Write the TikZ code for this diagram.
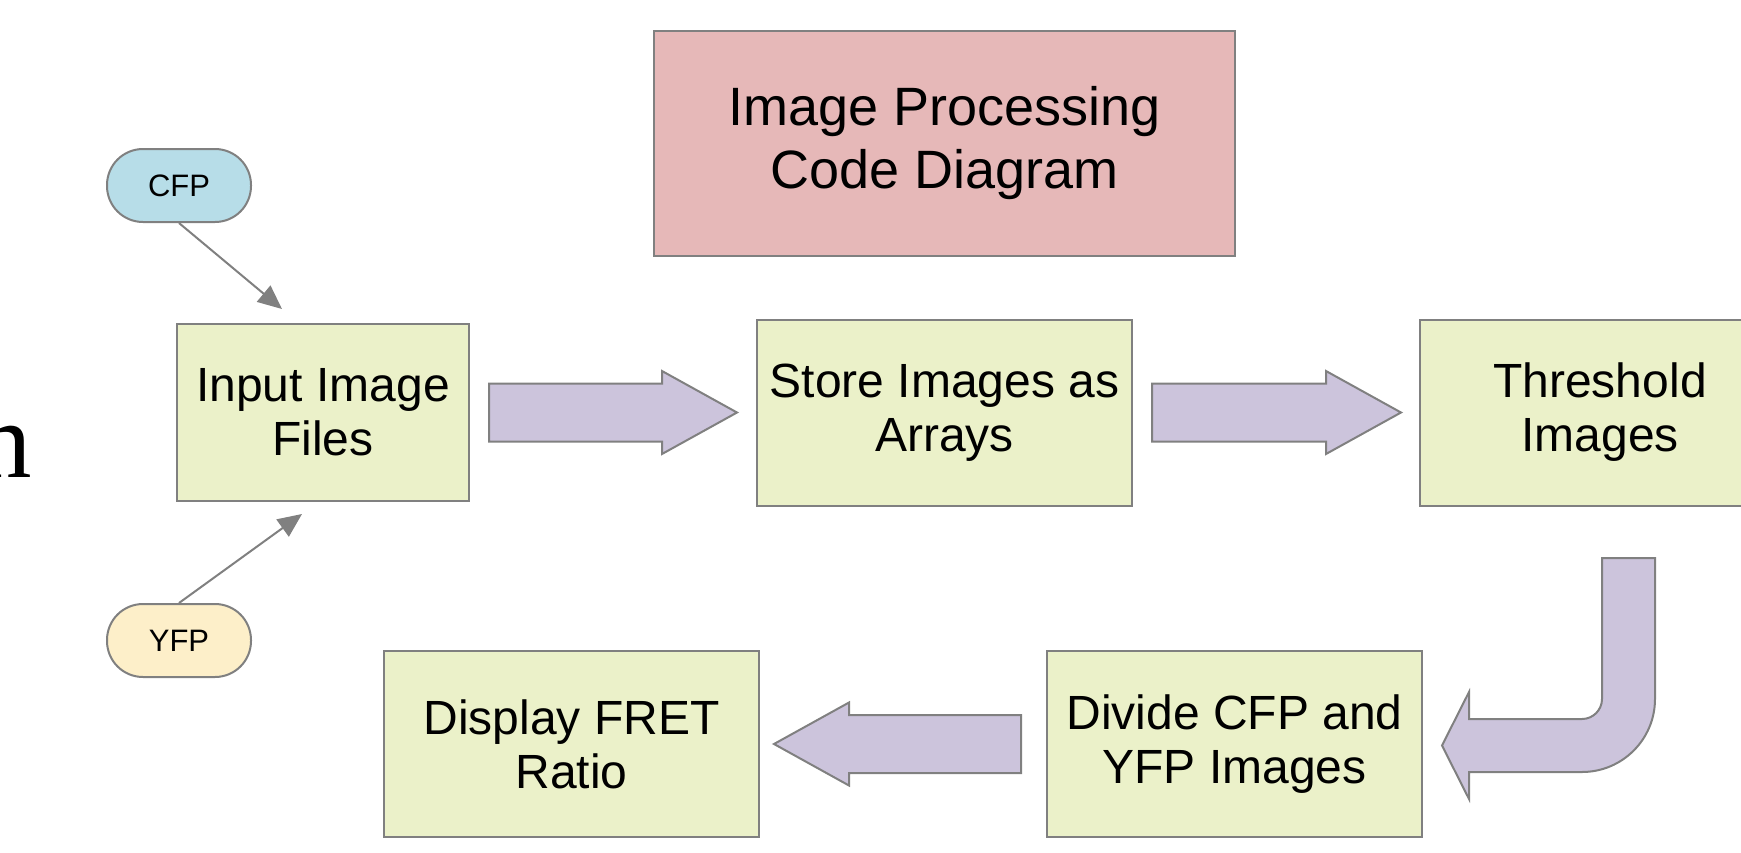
\documentclass[tikz,border=0pt]{standalone}
\usepackage{fontspec}
\setmainfont{Liberation Sans}
\newfontfamily\timesfont{Liberation Serif}
\usetikzlibrary{arrows.meta,calc}

\definecolor{stepfill}{HTML}{EBF1C9}
\definecolor{titlefill}{HTML}{E6B8B8}
\definecolor{flowfill}{HTML}{CCC4DC}
\definecolor{cfpfill}{HTML}{B7DDE8}
\definecolor{yfpfill}{HTML}{FDEFC9}
\definecolor{edgegray}{HTML}{808080}

\tikzset{
  stepbox/.style={draw=edgegray, line width=1pt, fill=stepfill, inner sep=0pt,
    minimum width=187.5pt, minimum height=93pt, align=center,
    font=\fontsize{24pt}{27pt}\selectfont},
  titlebox/.style={draw=edgegray, line width=1pt, fill=titlefill, inner sep=0pt,
    minimum width=290.5pt, minimum height=112.5pt, align=center,
    font=\fontsize{27pt}{31.5pt}\selectfont},
  pill/.style={draw=edgegray, line width=1pt, rounded corners=18pt, inner sep=0pt,
    minimum width=72pt, minimum height=36.5pt, font=\fontsize{15.5pt}{18pt}\selectfont},
  feed/.style={draw=edgegray, line width=1pt, -{Triangle[length=12pt,width=10.5pt]}},
  flowarrow/.style={draw=edgegray, line width=1pt, fill=flowfill, line join=miter},
}

% straight block arrow from tail #1 to tip #2, #3 = signed head length
\def\blockflow#1#2#3{\draw[flowarrow] let \p1=#1, \p2=#2 in
  (\x1,{\y1+14.5pt}) -- ({\x2-(#3)},{\y1+14.5pt}) -- ({\x2-(#3)},{\y1+20.75pt})
  -- (\x2,\y1) -- ({\x2-(#3)},{\y1-20.75pt}) -- ({\x2-(#3)},{\y1-14.5pt})
  -- (\x1,{\y1-14.5pt}) -- cycle;}

\begin{document}
\begin{tikzpicture}[x=0.5pt,y=-0.5pt]
\useasboundingbox (0,0) rectangle (1741,852);
\clip (0,0) rectangle (1741,852);

% left-over letter of the page text
\node[anchor=base west, inner sep=0pt, font=\timesfont\fontsize{54.5pt}{60pt}\selectfont] (cutn) at (-23,477) {n};

\node[titlebox] (title) at (944.5,143.5) {Image Processing\\Code Diagram};

% processing steps
\node[stepbox, minimum width=146pt, minimum height=88.5pt] (input) at (323,412.5) {Input Image\\Files};
\node[stepbox] (store) at (944.5,412.5) {Store Images as\\Arrays};
\node[stepbox, minimum width=180pt] (thresh) at (1600,412.5) {Threshold\\Images};
\node[stepbox] (divide) at (1234.5,744) {Divide CFP and\\YFP Images};
\node[stepbox] (display) at (571.5,744) {Display FRET\\Ratio};

% the two channels
\node[pill, fill=cfpfill] (cfp) at (179,185.5) {CFP};
\node[pill, fill=yfpfill] (yfp) at (179,640.5) {YFP};
\coordinate (cfpin) at (282,309);
\coordinate (yfpin) at (302,514);
\draw[feed] (cfp.south) -- (cfpin);
\draw[feed] (yfp.north) -- (yfpin);

% flow between the steps
\blockflow{($(input.east)+(19,0)$)}{($(store.west)+(-19,0)$)}{37.5pt}
\blockflow{($(store.east)+(19,0)$)}{($(thresh.west)+(-18,0)$)}{37.5pt}
\blockflow{($(divide.west)+(-25,0)$)}{($(display.east)+(14,0)$)}{-37.5pt}

% bent arrow down from the threshold step
\draw[flowarrow] (1602,558) -- (1655,558) -- (1655,699)
  .. controls (1655,739.3) and (1622.3,772) .. (1582,772)
  -- (1469,772) -- (1469,799) -- (1442,745.5) -- (1469,692) -- (1469,719)
  -- (1582,719) .. controls (1593,719) and (1602,710) .. (1602,699) -- cycle;
\end{tikzpicture}
\end{document}
